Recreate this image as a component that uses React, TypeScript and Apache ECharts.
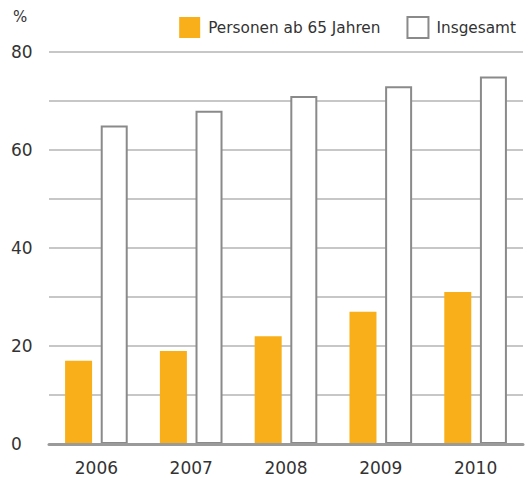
import React, { useEffect, useRef } from "react";
import * as echarts from "echarts";

const years = ["2006", "2007", "2008", "2009", "2010"];
const seniors = [17, 19, 22, 27, 31];
const total = [65, 68, 71, 73, 75];
const seriesNames = ["Personen ab 65 Jahren", "Insgesamt"];
const yUnit = "%";

const FONT = "DejaVu Sans";
const TEXT = "#333333";

export default function App() {
  const ref = useRef<HTMLDivElement>(null);
  useEffect(() => {
    if (!ref.current) return;
    const chart = echarts.init(ref.current, undefined, { renderer: "svg" });
    chart.setOption({
      animation: false,
      backgroundColor: "#ffffff",
      textStyle: { fontFamily: FONT },
      grid: { left: 49, right: 8, top: 52, bottom: 34, containLabel: false },
      graphic: [
        {
          type: "text",
          left: 13,
          top: 9,
          style: { text: yUnit, fontSize: 15, fontFamily: FONT, fill: TEXT },
        },
      ],
      legend: {
        right: 10,
        top: 11,
        itemWidth: 21,
        itemHeight: 21,
        itemGap: 26,
        icon: "rect",
        textStyle: { fontSize: 15.3, color: TEXT, fontFamily: FONT, padding: [0, 0, 0, 3] },
        data: seriesNames,
      },
      xAxis: {
        type: "category",
        data: years,
        z: 5,
        axisLine: { show: true, lineStyle: { color: "#9a9a9a", width: 3 } },
        axisTick: { show: false },
        axisLabel: { fontSize: 17, color: TEXT, margin: 15, fontFamily: FONT },
      },
      yAxis: {
        type: "value",
        min: 0,
        max: 80,
        interval: 10,
        axisLine: { show: false },
        axisTick: { show: false },
        axisLabel: {
          fontSize: 17,
          color: TEXT,
          align: "left",
          margin: 38,
          fontFamily: FONT,
          formatter: (v: number) => (v % 20 === 0 ? String(v) : ""),
        },
        splitLine: { show: true, lineStyle: { color: "#b5b5b5", width: 1.5 } },
      },
      series: [
        {
          name: seriesNames[0],
          type: "bar",
          data: seniors,
          barWidth: 27,
          barGap: "32%",
          itemStyle: { color: "#F9AF19" },
        },
        {
          name: seriesNames[1],
          type: "bar",
          data: total,
          barWidth: 27,
          itemStyle: { color: "#ffffff", borderColor: "#8a8a8a", borderWidth: 2 },
        },
      ],
    });
    return () => chart.dispose();
  }, []);
  return <div ref={ref} style={{ width: 531, height: 478, position: "absolute", left: 0, top: 0 }} />;
}
